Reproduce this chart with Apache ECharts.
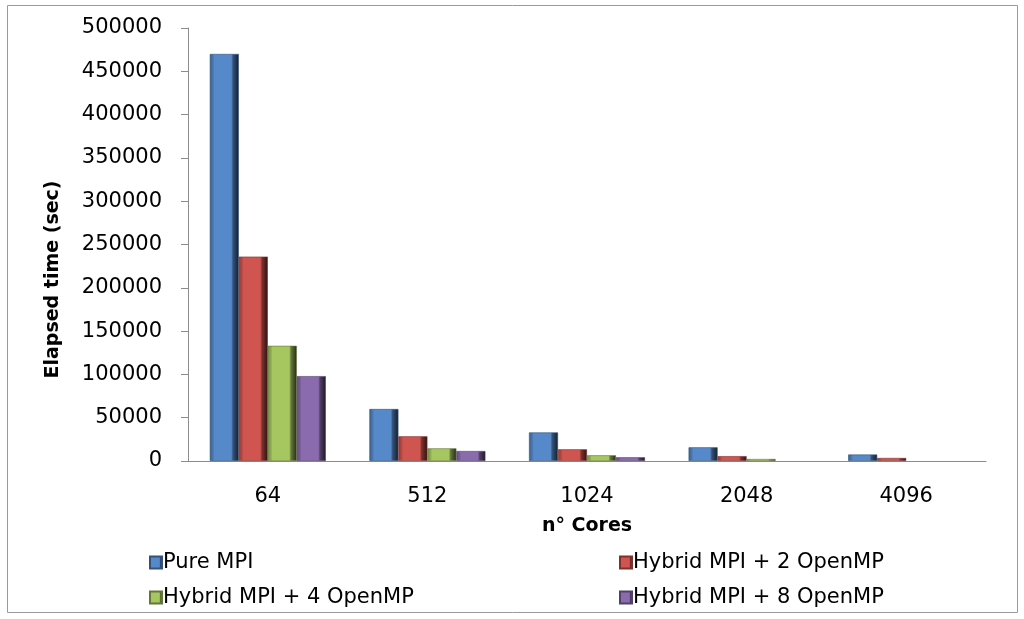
<!DOCTYPE html>
<html>
<head>
<meta charset="utf-8">
<script src="https://cdn.jsdelivr.net/npm/echarts@6/dist/echarts.min.js"></script>
<style>
  html, body { margin: 0; padding: 0; background: #fff; }
  #chart { width: 1024px; height: 619px; }
</style>
</head>
<body>
<div id="chart"></div>
<script>
// Elapsed time per core count for the pure MPI and hybrid MPI/OpenMP runs
const cores = ['64', '512', '1024', '2048', '4096'];
const pureMPI = [470000, 60000, 33000, 15800, 7500];
const hybrid2 = [236000, 28500, 13500, 5600, 3500];
const hybrid4 = [133000, 14600, 6600, 2300, null];
const hybrid8 = [98000, 11500, 4300, null, null];
const yTicks = { min: 0, max: 500000, step: 50000 };

const seriesNames = ['Pure MPI', 'Hybrid MPI + 2 OpenMP', 'Hybrid MPI + 4 OpenMP', 'Hybrid MPI + 8 OpenMP'];
const seriesData = [pureMPI, hybrid2, hybrid4, hybrid8];
const baseColors = ['#5689c9', '#d0544f', '#a6c660', '#8a6bae'];

function shade(hex, f) {
  const n = parseInt(hex.slice(1), 16);
  const r = Math.round(((n >> 16) & 255) * f);
  const g = Math.round(((n >> 8) & 255) * f);
  const b = Math.round((n & 255) * f);
  return 'rgb(' + r + ',' + g + ',' + b + ')';
}

// bevelled bar fill: darker left rim, flat face, dark right edge
function bevel(hex) {
  return new echarts.graphic.LinearGradient(0, 0, 1, 0, [
    { offset: 0, color: shade(hex, 0.7) },
    { offset: 0.12, color: shade(hex, 0.88) },
    { offset: 0.16, color: hex },
    { offset: 0.74, color: hex },
    { offset: 0.8, color: shade(hex, 0.6) },
    { offset: 1, color: shade(hex, 0.22) }
  ]);
}

const font = 'DejaVu Sans';

const chart = echarts.init(document.getElementById('chart'), null, { renderer: 'canvas' });

chart.setOption({
  animation: false,
  backgroundColor: '#fff',
  graphic: [{
    type: 'rect',
    shape: { x: 7.5, y: 5.5, width: 1010, height: 607 },
    style: { fill: 'none', stroke: '#9a9a9a', lineWidth: 1 },
    silent: true
  }],
  grid: { left: 188, right: 38, top: 28, bottom: 158 },
  legend: [
    {
      orient: 'vertical', left: 144, top: 547, itemGap: 14,
      itemWidth: 12, itemHeight: 12, icon: 'rect',
      data: [seriesNames[0], seriesNames[2]],
      textStyle: { fontFamily: font, fontSize: 21, color: '#000', padding: [0, 0, 0, -4] }
    },
    {
      orient: 'vertical', left: 614, top: 547, itemGap: 14,
      itemWidth: 12, itemHeight: 12, icon: 'rect',
      data: [seriesNames[1], seriesNames[3]],
      textStyle: { fontFamily: font, fontSize: 21, color: '#000', padding: [0, 0, 0, -4] }
    }
  ],
  xAxis: {
    type: 'category',
    data: cores,
    name: 'n° Cores',
    nameLocation: 'middle',
    nameGap: 56,
    nameTextStyle: { fontFamily: font, fontSize: 19, fontWeight: 'bold', color: '#000' },
    axisLine: { lineStyle: { color: '#8c8c8c', width: 1 } },
    axisTick: { length: 9, lineStyle: { color: '#8c8c8c' } },
    axisLabel: { margin: 25, fontFamily: font, fontSize: 21, color: '#000' }
  },
  yAxis: {
    type: 'value',
    min: yTicks.min,
    max: yTicks.max,
    interval: yTicks.step,
    name: 'Elapsed time (sec)',
    nameLocation: 'middle',
    nameGap: 125,
    nameTextStyle: { fontFamily: font, fontSize: 19, fontWeight: 'bold', color: '#000', padding: [0, 0, 0, -70] },
    splitLine: { show: false },
    axisLine: { show: true, lineStyle: { color: '#8c8c8c', width: 1 } },
    axisTick: { show: true, length: 7, lineStyle: { color: '#8c8c8c' } },
    axisLabel: {
      margin: 26, fontFamily: font, fontSize: 21, color: '#000',
      formatter: v => String(v)
    }
  },
  series: seriesNames.map((name, i) => ({
    name: name,
    type: 'bar',
    data: seriesData[i],
    barWidth: 29,
    barGap: '0%',
    itemStyle: {
      color: bevel(baseColors[i]),
      borderColor: shade(baseColors[i], 0.6),
      borderWidth: 0.6
    }
  }))
});
</script>
</body>
</html>
